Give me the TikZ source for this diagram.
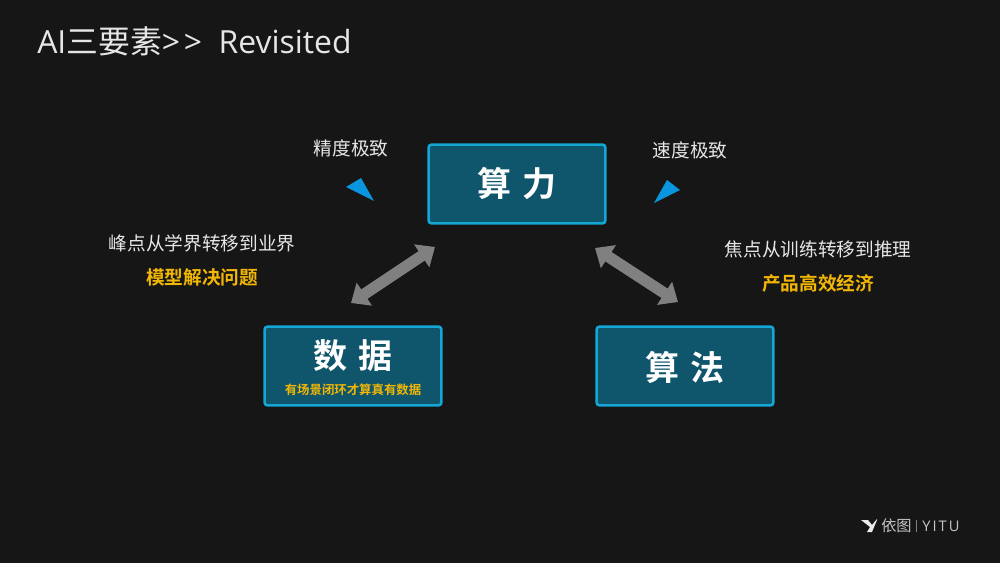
\documentclass[tikz,border=0pt]{standalone}
\usepackage{fontspec}
\setmainfont{Noto Sans CJK SC}
\newfontfamily\boldcjk{Noto Sans CJK SC Bold}
\newfontfamily\latinf{Open Sans}
\newfontfamily\latinsp[LetterSpace=14]{Open Sans}
\usetikzlibrary{arrows.meta}
\definecolor{bgc}{HTML}{161616}
\definecolor{boxfill}{HTML}{0F566D}
\definecolor{boxline}{HTML}{14A6D4}
\definecolor{tri}{HTML}{0A96DE}
\definecolor{gold}{HTML}{F2B705}
\definecolor{arrowc}{HTML}{808080}
\definecolor{soft}{HTML}{E6E6E6}
\tikzset{
  x=0.75pt,y=-0.75pt,
  mainbox/.style={draw=boxline,fill=boxfill,line width=1.9pt,rounded corners=2pt,minimum width=132.5pt,minimum height=59pt,inner sep=0pt},
  boxtitle/.style={text=white,font=\boldcjk\fontsize{25.5}{28}\selectfont,inner sep=0pt},
  caption/.style={text=soft,font=\fontsize{14}{16}\selectfont,inner sep=0pt},
  keyline/.style={text=gold,font=\boldcjk\fontsize{14}{16}\selectfont,inner sep=0pt},
  fatarrow/.style={draw=arrowc,line width=8.5pt,{Triangle[width=20pt,length=12pt]}-{Triangle[width=20pt,length=12pt]}},
  bluetri/.style={fill=tri,draw=none},
}
\begin{document}
\begin{tikzpicture}
\useasboundingbox (0,0) rectangle (1000,563);
\fill[bgc] (0,0) rectangle (1000,563);
\node[anchor=west,inner sep=0pt,text=soft,font=\fontsize{23.9}{28}\selectfont] (title) at (37,41) {{\latinf AI}三要素{\latinf >\hspace{0.12em}> \ Revisited}};

\node[mainbox] (suanli) at (517,184) {};
\node[boxtitle] (suanlit) at (517,184) {算\hspace{0.35em}力};
\node[mainbox] (shuju) at (353,366) {};
\node[boxtitle] (shujut) at (353,356) {数\hspace{0.35em}据};
\node[text=gold,font=\boldcjk\fontsize{9.3}{12}\selectfont,inner sep=0pt] (shujusub) at (353,390) {有场景闭环才算真有数据};
\node[mainbox] (suanfa) at (685,366) {};
\node[boxtitle] (suanfat) at (685,367) {算\hspace{0.35em}法};

\node[caption] (jingdu) at (351,148) {精度极致};
\node[caption] (sudu) at (690,150) {速度极致};
\fill[bluetri] (346,187) -- (361,178) -- (374,201) -- cycle;
\fill[bluetri] (654,203) -- (667,180) -- (680,190) -- cycle;

\node[caption] (fengdian) at (202,243) {峰点从学界转移到业界};
\node[keyline] (moxing) at (202,277) {模型解决问题};
\node[caption] (jiaodian) at (818,249) {焦点从训练转移到推理};
\node[keyline] (chanpin) at (818,283) {产品高效经济};

\coordinate (la) at (351,303);
\coordinate (lb) at (435,247);
\coordinate (ra) at (595,248);
\coordinate (rb) at (678,302);
\draw[fatarrow] (la) -- (lb);
\draw[fatarrow] (ra) -- (rb);

\fill[white!92!black] (861,520) -- (868,520) -- (872,525) -- (877,519) -- (877,520) -- (872,532) -- (867,532) -- (870,527) -- cycle;
\node[anchor=west,inner sep=0pt,text=soft!85!black,font=\fontsize{11.4}{13}\selectfont] (yitu) at (881,526) {依图};
\node[anchor=west,inner sep=0pt,text=soft!85!black,font=\latinsp\fontsize{11}{12}\selectfont] (yitul) at (922,526) {YITU};
\draw[gray,line width=0.5pt] (916,520) -- (916,532);
\end{tikzpicture}
\end{document}
